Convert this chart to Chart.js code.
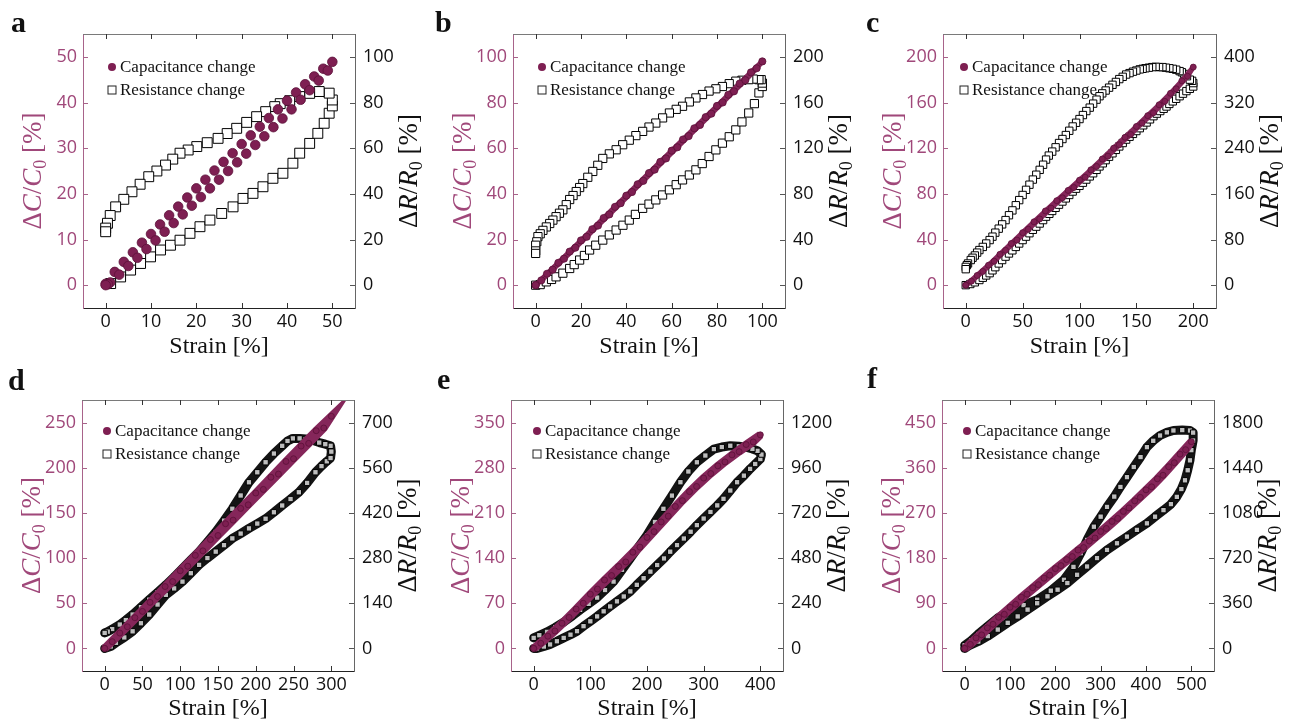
<!DOCTYPE html>
<html><head><meta charset="utf-8">
<script src="https://cdn.jsdelivr.net/npm/chart.js@4.4.1/dist/chart.umd.min.js"></script>
<style>
html,body{margin:0;padding:0;background:#fff;}
body{width:1290px;height:724px;position:relative;overflow:hidden;}
canvas{position:absolute;}
.lt{position:absolute;font-family:"Liberation Serif",serif;font-weight:bold;font-size:30px;line-height:30px;color:#111;}
</style></head><body>
<canvas id="pa" width="430" height="362" style="left:0;top:0"></canvas>
<canvas id="pb" width="430" height="362" style="left:430px;top:0"></canvas>
<canvas id="pc" width="430" height="362" style="left:860px;top:0"></canvas>
<canvas id="pd" width="430" height="362" style="left:0;top:362px"></canvas>
<canvas id="pe" width="430" height="362" style="left:430px;top:362px"></canvas>
<canvas id="pf" width="430" height="362" style="left:860px;top:362px"></canvas>
<div class="lt" style="left:11px;top:7px">a</div>
<div class="lt" style="left:435px;top:7px">b</div>
<div class="lt" style="left:866px;top:7px">c</div>
<div class="lt" style="left:8px;top:365px">d</div>
<div class="lt" style="left:437px;top:364px">e</div>
<div class="lt" style="left:867px;top:363px">f</div>
<script>
// ---------- text ----------
const LABELS = ['Capacitance change', 'Resistance change'];
const X_TITLE = 'Strain [%]';

// ---------- panel a ----------
const a_xTicks = [0, 10, 20, 30, 40, 50];
const a_cTicks = [0, 10, 20, 30, 40, 50];
const a_rTicks = [0, 20, 40, 60, 80, 100];
const a_capX = [0,2,4,6,8,10,12,14,16,18,20,22,24,26,28,30,32,34,36,38,40,42,44,46,48,50,
                1,3,5,7,9,11,13,15,17,19,21,23,25,27,29,31,33,35,37,39,41,43,45,47,49,0.5,0];
const a_capY = [0.3,2.9,5.1,7.2,9.3,11.2,13.3,15.3,17.2,19.2,21.2,23.1,25.1,27.0,28.9,30.9,32.8,34.7,36.6,38.5,40.4,42.2,44.0,45.7,47.4,48.9,
                0.6,2.3,4.2,6.0,7.9,9.8,11.7,13.6,15.5,17.4,19.3,21.2,23.1,25.0,26.9,28.8,30.7,32.6,34.6,36.5,38.5,40.6,42.7,44.8,47.0,0.2,0];
const a_resX = [1.1,3.3,5.5,7.7,9.9,12.1,14.3,16.4,18.6,20.8,23,25.6,28.1,30.3,32.5,34.7,36.9,39.1,41.3,42.8,45,46.8,48.2,49.3,50,
                50,49.3,47.1,45,42.8,40.6,38.5,37.3,35.3,33.3,31.1,28.9,26.8,24.8,22.4,20.1,18.2,16.4,14.8,13.2,11.3,9.5,7.6,5.8,4,2.2,1,0.4,0,0];
const a_resY = [0.7,3.6,6.6,9.5,12.4,15.4,17.5,19.7,22.7,25.6,28.5,31.4,34.3,38,40.2,43.1,46.8,49,53.4,57.8,62.1,66.5,70.9,75.3,78.5,
                81.1,84.1,84.8,84,82.6,80.8,79.5,78.2,76,73.8,71.3,68.7,66.4,64.3,62.4,60.7,59.2,57.8,55.2,52.6,50,47.5,44.2,40.9,37.6,34.3,30.5,27.1,25,23.4];

// ---------- panel b ----------
const b_xTicks = [0, 20, 40, 60, 80, 100];
const b_cTicks = [0, 20, 40, 60, 80, 100];
const b_rTicks = [0, 40, 80, 120, 160, 200];
const b_capX = [0,5,10,15,20,25,30,35,40,45,50,55,60,65,70,75,80,85,90,95,100,
                97.5,92.5,87.5,82.5,77.5,72.5,67.5,62.5,57.5,52.5,47.5,42.5,37.5,32.5,27.5,22.5,17.5,12.5,7.5,2.5,0];
const b_capY = [0,5,9.8,14.7,19.6,24.5,29.4,34.3,39.2,44.2,49.1,54,58.9,63.8,68.7,73.6,78.5,83.4,88.3,93.2,98,
                95,89.8,84.9,80,75.1,70.2,65.3,60.4,55.5,50.6,45.7,40.8,35.9,31,26.1,21.2,16.4,11.6,6.8,2.1,0];
const b_resX = [0,2,4.7,7,9,12,15,17,19.4,21.5,23.8,26.5,29.6,32.5,35.5,38.5,41.3,44,47.2,50,53,56,59,62,64.8,67.8,70.7,73.5,76.5,79.5,82.4,85.4,88.3,91,94,96.5,98.5,100,
                100,99.5,98.5,96,94,91,88.3,85.4,82.4,79.5,76.5,73.6,70.7,67.8,64.8,62,59,56,53,50,47.2,44.2,41.3,38.4,35.5,32.5,29.6,27.4,25.2,23,20.8,19.4,17.9,16.5,15,13.5,12,10.5,9,7.6,6.2,4.7,3.2,2,1,0.5,0,0,0];
const b_resY = [0,0.5,2.9,5,7.3,10.5,14.6,18,22,26,30.8,35,39.5,44,48.3,52.5,57,62,67.3,71,74.7,79,83.5,88,92.2,96.5,101,106.5,112.7,118.5,124.4,130,136,143,150.8,159,168.4,174,
                177,180,180,180.5,180,179.5,178.7,176.5,174,172,170,167,164,160.5,156.7,154,150.8,146.5,142,138.5,134.7,131,127,123,118.6,115,111,105,99.6,94.5,89,85.5,82,78.5,75,70.5,66,63,60,57,54,51,48,45,42.5,38,35,30,27.8];

// ---------- panel c ----------
const c_xTicks = [0, 50, 100, 150, 200];
const c_cTicks = [0, 40, 80, 120, 160, 200];
const c_rTicks = [0, 80, 160, 240, 320, 400];
const c_capX = [0,10,20,30,40,50,60,70,80,90,100,110,120,130,140,150,160,170,180,190,200,
                195,185,175,165,155,145,135,125,115,105,95,85,75,65,55,45,35,25,15,5,0];
const c_capY = [0,8.5,17.5,27,36.5,46,55.5,65,74,83,92,101,110.5,120,129.5,139,148.5,158,168,179,191,
                183,172,161,151,142,132,123,113,104,94.5,85.5,76.5,67.5,58,49,39.5,30.5,21,12,3.5,0];
const c_resX = [0,4,8,12,15,18,21,23.5,26,29,32,35,38,41,44,47,50,53,56,59,62,65,68,70.6,73.5,76,79,82,85,88,91,94,97,100,103,106,109,112,115,117.6,120.5,123,126,129,132,135,138,141,144,147,150,153,156,159,162,165,168,171,174,176.5,179,182,185,188,191,194,197,200,
                200,199,197,194.5,192,190,188,185,182,179,176,173,170,167,164,161,158,155.5,153,150,147,144,141,138,135,132,129,126,123,120,117.6,115,112,109,106,103,100,97,94,91,88,85,82,79,76,73,70.6,68,65,62,59,56,53,50,47,44,41,38,35,32,29,26,23.5,21,18,15,12,10,8,6,4.4,2,1,0,0];
const c_resY = [0,2,5,9,13,17,21,26,31.5,38,44,50,55.5,61,67,73,79,85,91,97,102.5,108,114,120,125,130,135.5,141,146.5,152,158,164,169,174,179.5,185,190.5,196,202,208,213.5,219,225,231,237,243,249,255,260,265,270,275,280,285,290.5,296,300.5,305,309,313,317.5,322,326.5,331,335.5,340,344,348,
                354,358,360,366,370,373,375,377.5,379,380,381,382,382,382.5,382,381,380,379,378,376,374,371.5,369,365,361,356,351,346,341,336,331,325,318,311,305,298,291,284.5,278,270.5,263,256,249,241.5,234,227,220,211,202,193.5,185,176,167,158,149,140,131,122.5,114,106.5,99,92,85,79,73,67,61.5,57,52,48,44,38,35,32,28];

// ---------- panel d ----------
const d_xTicks = [0, 50, 100, 150, 200, 250, 300];
const d_cTicks = [0, 50, 100, 150, 200, 250];
const d_rTicks = [0, 140, 280, 420, 560, 700];
const d_capX = [0,20,40,60,80,100,120,140,160,180,200,220,240,260,280,300,
                290,270,250,230,210,190,170,150,130,110,90,70,50,30,10,0];
const d_capY = [0,17,34,51,68.5,86,103,120.5,138,155,172,189.5,207,224,241,257,
                244,227,210,193,176,159,142,125,108,91,74,57.5,41,24,7.5,0];
const d_resX = [0,8,15,26,37,48,59,70,81,92,103,114,125,136,147,158,169,180,191,202,213,224,235,246,257,268,279,287,294,299,300,299,
                292,284,275,266,258,249,242,235,224,213,202,191,180,169,158,147,136,125,114,103,92,81,70,59,48,37,28,20,10,4,0];
const d_resY = [0,6,17.5,34,53,78,105,136,166,186,207,233,259,280,300,320,341,356,372,387,402,422,443,463,484,513,546,565,580,590,610,628,
                633,638,645,649,651,651,643,628,604,577,546,515,474,433,396,361,330,300,274,248,222,197,174,151,128,105,88,74,60,52,48];

// ---------- panel e ----------
const e_xTicks = [0, 100, 200, 300, 400];
const e_cTicks = [0, 70, 140, 210, 280, 350];
const e_rTicks = [0, 240, 480, 720, 960, 1200];
const e_capX = [0,25,50,75,100,125,150,175,200,225,250,275,300,325,350,375,400,
                387.5,362.5,337.5,312.5,287.5,262.5,237.5,212.5,187.5,162.5,137.5,112.5,87.5,62.5,37.5,12.5,0];
const e_capY = [0,19,39,61,84,106,127,149,172,196,220,243,264,283,300,316,331,
                320,305,289,271,251,229,205,181,157,134,113,92,70,48,27,8,0];
const e_resX = [0,6,18,29,41,53,65,76.5,88,100,112,123.5,135,147,159,170.6,182,194,206,218,230,241,253,265,277,288,300,312,324,335,347,359,371,382,391,400,402,
                395,386,376.5,362,347,332,318,303,288,273,259,244,229,214,200,185,170.6,156,141,126,112,97,82,68,53,38,23.5,10,0];
const e_resY = [0,0,10,21,38,56,73,91.5,118,144,170,197,223,250,276,303,338,373,408,443,478,514,549,584,620,655,690,725,760,795,839,883,918,954,980,1006,1030,
                1050,1060,1068,1074,1077,1070,1059,1025,989,940,883,812,742,672,602,540,479,418,355,310,270,237,205,172,140,112,88,70,56];

// ---------- panel f ----------
const f_xTicks = [0, 100, 200, 300, 400, 500];
const f_cTicks = [0, 90, 180, 270, 360, 450];
const f_rTicks = [0, 360, 720, 1080, 1440, 1800];
const f_capX = [0,25,50,75,100,125,150,175,200,225,250,275,300,325,350,375,400,425,450,475,500,
                487.5,462.5,437.5,412.5,387.5,362.5,337.5,312.5,287.5,262.5,237.5,212.5,187.5,162.5,137.5,112.5,87.5,62.5,37.5,12.5,0];
const f_capY = [0,21,41,62,82,102,121,140,159,177,196,214,233,253,273,294,316,338,362,387,412,
                396,370,345,322,301,280,259,239,220,201,183,165,146,127,108,88,68,48,27,8,0];
const f_resX = [0,15,30,50,73,100,130,160,190,219,240,256,270,285,300,314,330,343.6,358,373,388,402,416,431,446,460.5,480,497,504,
                504,500,497,492,486,478,468,455,438.6,420,402,380,358,336,314,292,270,248,226.5,205,182.7,160,138.8,117,95,73,51,30,7.3,0];
const f_resY = [25,65,115,175,243,300,345,388,460,547,650,759,865,970,1050,1128,1210,1287,1365,1446,1525,1604,1655,1697,1722,1737,1740,1737,1720,
                1657,1580,1499,1420,1340,1270,1208,1150,1102,1050,997,945,891,838,785,720,653,587,521,468,415,360,309,255,204,150,98,55,18,0];

// ---------- styling ----------
const MAROON = '#7e1f52', MAROON_EDGE = '#5c1039', MAROON_LINE = '#85265a';
const LEFT_COL = '#a0487a', LEFT_AXIS = '#a8638a';
const TICK_FONT = {family: '"Open Sans", "Noto Sans", sans-serif', size: 18};
const SERIF = '"Liberation Serif", "DejaVu Serif", serif';

function drawRich(ctx, segs, cx, cy, size, color) {
  ctx.save();
  ctx.translate(cx, cy);
  ctx.rotate(-Math.PI / 2);
  ctx.fillStyle = color;
  ctx.textBaseline = 'alphabetic';
  const fontOf = s => (s.it ? 'italic ' : '') + (s.sub ? Math.round(size * 0.68) : size) + 'px ' + SERIF;
  let w = 0;
  segs.forEach(s => { ctx.font = fontOf(s); s.w = ctx.measureText(s.t).width; w += s.w; });
  let x = -w / 2;
  const base = size * 0.33;
  segs.forEach(s => { ctx.font = fontOf(s); ctx.fillText(s.t, x, base + (s.sub ? size * 0.2 : 0)); x += s.w; });
  ctx.restore();
}

const deco = {
  id: 'deco',
  afterDatasetsDraw(chart, args, o) {
    const {ctx, chartArea} = chart;
    const lx = chartArea.left + o.dx;
    const y1 = chartArea.top + o.dy1, y2 = chartArea.top + o.dy2;
    ctx.save();
    ctx.font = '17px ' + SERIF;
    ctx.textBaseline = 'middle';
    ctx.beginPath(); ctx.arc(lx, y1, 4, 0, Math.PI * 2);
    ctx.fillStyle = MAROON; ctx.fill();
    ctx.fillStyle = '#111';
    ctx.fillText(chart.data.datasets[0].label, lx + 8, y1 + 1);
    ctx.fillStyle = '#fff'; ctx.fillRect(lx - 4, y2 - 4, 8, 8);
    ctx.strokeStyle = '#222'; ctx.lineWidth = 1; ctx.strokeRect(lx - 4, y2 - 4, 8, 8);
    ctx.fillStyle = '#111';
    ctx.fillText(chart.data.datasets[1].label, lx + 8, y2 + 1);
    ctx.restore();
  },
  afterDraw(chart, args, o) {
    const {ctx, chartArea: ca, scales} = chart;
    ctx.save();
    ctx.lineWidth = 1;
    ctx.strokeStyle = '#7a7a7a';
    ctx.beginPath(); ctx.moveTo(ca.left, ca.top + 0.5); ctx.lineTo(ca.right, ca.top + 0.5); ctx.stroke();
    const L = 5;
    ctx.strokeStyle = '#333';
    scales.x.ticks.forEach(t => {
      const p = Math.round(scales.x.getPixelForValue(t.value)) + 0.5;
      ctx.beginPath();
      ctx.moveTo(p, ca.bottom); ctx.lineTo(p, ca.bottom - L);
      ctx.moveTo(p, ca.top); ctx.lineTo(p, ca.top + L);
      ctx.stroke();
    });
    ctx.strokeStyle = LEFT_AXIS;
    scales.yC.ticks.forEach(t => {
      const p = Math.round(scales.yC.getPixelForValue(t.value)) + 0.5;
      ctx.beginPath(); ctx.moveTo(ca.left, p); ctx.lineTo(ca.left + L, p); ctx.stroke();
    });
    ctx.strokeStyle = '#555';
    scales.yR.ticks.forEach(t => {
      const p = Math.round(scales.yR.getPixelForValue(t.value)) + 0.5;
      ctx.beginPath(); ctx.moveTo(ca.right, p); ctx.lineTo(ca.right - L, p); ctx.stroke();
    });
    ctx.restore();
    const cy = (ca.top + ca.bottom) / 2;
    drawRich(ctx, [{t:'Δ'},{t:'C',it:1},{t:'/'},{t:'C',it:1},{t:'0',sub:1},{t:' [%]'}], ca.left + o.ltx, cy, 27, LEFT_COL);
    drawRich(ctx, [{t:'Δ'},{t:'R',it:1},{t:'/'},{t:'R',it:1},{t:'0',sub:1},{t:' [%]'}], ca.right + o.rtx, cy, 27, '#111');
  }
};

function ticksFrom(arr) { return s => { s.ticks = arr.map(v => ({value: v})); }; }

function makePanel(id, P) {
  const capData = P.capX.map((x, i) => ({x: x, y: P.capY[i]}));
  const resData = P.resX.map((x, i) => ({x: x, y: P.resY[i]}));
  new Chart(document.getElementById(id), {
    type: 'scatter',
    data: {datasets: [
      {label: LABELS[0], data: capData, yAxisID: 'yC',
       showLine: P.capLine > 0, borderColor: MAROON_LINE, borderWidth: P.capLine, tension: 0,
       pointStyle: 'circle', pointRadius: P.capR, pointBackgroundColor: MAROON,
       pointBorderColor: MAROON_EDGE, pointBorderWidth: 0.8},
      {label: LABELS[1], data: resData, yAxisID: 'yR',
       showLine: P.resLine > 0, borderColor: '#141414', borderWidth: P.resLine, tension: 0,
       borderJoinStyle: 'round', borderCapStyle: 'round',
       pointStyle: 'rect', pointRadius: P.resR, pointBackgroundColor: P.resFill,
       pointBorderColor: '#000', pointBorderWidth: 1}
    ]},
    options: {
      responsive: false, animation: false, devicePixelRatio: 1,
      layout: {padding: {top: P.top, left: 0, right: 0, bottom: 0}},
      plugins: {legend: {display: false}, tooltip: {enabled: false},
                deco: {dx: P.legDx, dy1: P.legDy1, dy2: P.legDy2, ltx: -51, rtx: 53}},
      scales: {
        x: {type: 'linear', position: 'bottom', min: P.xr[0], max: P.xr[1],
            afterBuildTicks: ticksFrom(P.xTicks), afterFit: s => { s.height = P.xH; },
            grid: {display: false, drawTicks: false}, border: {color: '#222', width: 1},
            ticks: {font: TICK_FONT, color: '#111', padding: 3, maxRotation: 0, autoSkip: false, callback: v => String(v)},
            title: {display: true, text: X_TITLE, color: '#111',
                    font: {family: SERIF, size: 24, lineHeight: 1}, padding: {top: 0, bottom: 3}}},
        yC: {type: 'linear', position: 'left', min: P.cr[0], max: P.cr[1],
            afterBuildTicks: ticksFrom(P.cTicks), afterFit: s => { s.width = P.leftW; },
            grid: {display: false, drawTicks: false}, border: {color: LEFT_AXIS, width: 1},
            ticks: {font: TICK_FONT, color: LEFT_COL, padding: 6, autoSkip: false, callback: v => String(v)}},
        yR: {type: 'linear', position: 'right', min: P.rr[0], max: P.rr[1],
            afterBuildTicks: ticksFrom(P.rTicks), afterFit: s => { s.width = P.rightW; },
            grid: {display: false, drawTicks: false}, border: {color: '#666', width: 1},
            ticks: {font: TICK_FONT, color: '#111', padding: 8, autoSkip: false, callback: v => String(v)}}
      }
    },
    plugins: [deco]
  });
}

const TOP = {top: 34, leftW: 83, rightW: 75, xH: 54, legDy1: 33, legDy2: 56};
const BOT = {top: 38, xH: 53, legDy1: 31, legDy2: 54};

makePanel('pa', Object.assign({}, TOP, {xr: [-5, 55], cr: [-5, 55], rr: [-10, 110],
  xTicks: a_xTicks, cTicks: a_cTicks, rTicks: a_rTicks, capX: a_capX, capY: a_capY, resX: a_resX, resY: a_resY,
  capR: 4.8, capLine: 0, resR: 7, resLine: 0, resFill: '#fff', legDx: 29}));
makePanel('pb', Object.assign({}, TOP, {xr: [-10, 110], cr: [-10, 110], rr: [-20, 220],
  xTicks: b_xTicks, cTicks: b_cTicks, rTicks: b_rTicks, capX: b_capX, capY: b_capY, resX: b_resX, resY: b_resY,
  capR: 3.6, capLine: 5, resR: 5.8, resLine: 0, resFill: '#fff', legDx: 29}));
makePanel('pc', Object.assign({}, TOP, {rightW: 74, xr: [-20, 220], cr: [-20, 220], rr: [-40, 440],
  xTicks: c_xTicks, cTicks: c_cTicks, rTicks: c_rTicks, capX: c_capX, capY: c_capY, resX: c_resX, resY: c_resY,
  capR: 3, capLine: 5, resR: 5.2, resLine: 0, resFill: '#fff', legDx: 21}));
makePanel('pd', Object.assign({}, BOT, {leftW: 82, rightW: 76, xr: [-30, 330], cr: [-25, 275], rr: [-70, 770],
  xTicks: d_xTicks, cTicks: d_cTicks, rTicks: d_rTicks, capX: d_capX, capY: d_capY, resX: d_resX, resY: d_resY,
  capR: 3, capLine: 8, resR: 3.8, resLine: 9, resFill: '#bdbdbd', legDx: 25}));
makePanel('pe', Object.assign({}, BOT, {leftW: 81, rightW: 77, xr: [-40, 440], cr: [-35, 385], rr: [-120, 1320],
  xTicks: e_xTicks, cTicks: e_cTicks, rTicks: e_rTicks, capX: e_capX, capY: e_capY, resX: e_resX, resY: e_resY,
  capR: 3, capLine: 8, resR: 3.8, resLine: 9, resFill: '#bdbdbd', legDx: 26}));
makePanel('pf', Object.assign({}, BOT, {leftW: 82, rightW: 76, xr: [-50, 550], cr: [-45, 495], rr: [-180, 1980],
  xTicks: f_xTicks, cTicks: f_cTicks, rTicks: f_rTicks, capX: f_capX, capY: f_capY, resX: f_resX, resY: f_resY,
  capR: 3, capLine: 8, resR: 3.8, resLine: 9, resFill: '#bdbdbd', legDx: 25}));
</script>
</body></html>
